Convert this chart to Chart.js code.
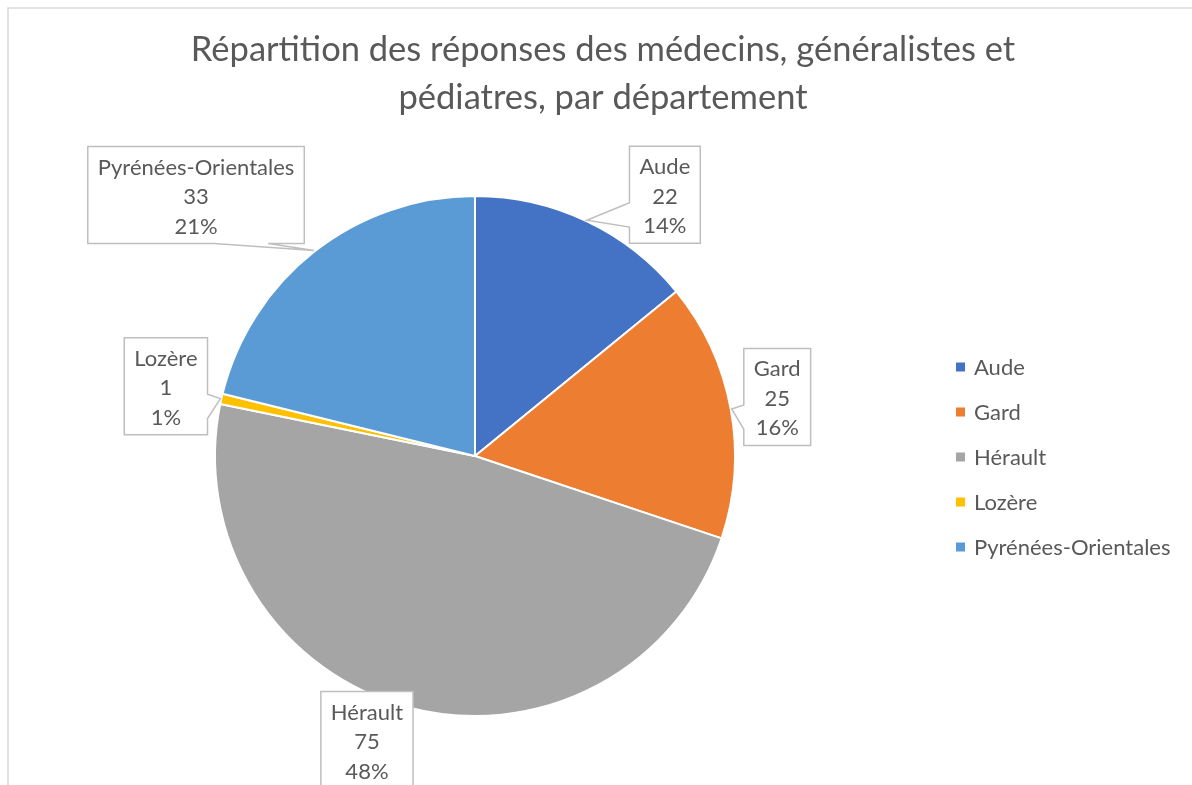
<!DOCTYPE html>
<html>
<head>
<meta charset="utf-8">
<script src="https://cdn.jsdelivr.net/npm/chart.js@4/dist/chart.umd.min.js"></script>
<style>
  html, body { margin: 0; padding: 0; background: #fff; }
</style>
</head>
<body>
<canvas id="camembert" width="1192" height="785"></canvas>
<script>
const departements = ['Aude', 'Gard', 'Hérault', 'Lozère', 'Pyrénées-Orientales'];
const reponses = [22, 25, 75, 1, 33];
const titre = ['Répartition des réponses des médecins, généralistes et', 'pédiatres, par département'];

const couleurs = ['#4472C4', '#ED7D31', '#A5A5A5', '#FFC000', '#5B9BD5'];
const gris = '#595959';
const police = 'Lato, "Open Sans", sans-serif';

// where each callout sits, relative to the edge point of its slice
const decalages = [[78, -25.5], [45.5, -12], [-40.5, 32], [-54.5, -12.5], [-118, -55.5]];

const total = reponses.reduce((a, b) => a + b, 0);
const pourcent = v => Math.round(v / total * 100) + '%';

function bulle(ctx, cx, cy, w, h, tip) {
  const l = cx - w / 2, t = cy - h / 2, r = l + w, b = t + h;
  const dx = (tip.x - cx) / w, dy = (tip.y - cy) / h;
  const inside = tip.x > l && tip.x < r && tip.y > t && tip.y < b;
  ctx.beginPath();
  ctx.moveTo(l, t);
  // top
  if (!inside && Math.abs(dy) >= Math.abs(dx) && dy < 0) {
    const f = dx > 0 ? [7, 10] : [2, 5];
    ctx.lineTo(l + w * f[0] / 12, t); ctx.lineTo(tip.x, tip.y); ctx.lineTo(l + w * f[1] / 12, t);
  }
  ctx.lineTo(r, t);
  // right
  if (!inside && Math.abs(dx) > Math.abs(dy) && dx > 0) {
    const f = dy > 0 ? [7, 10] : [2, 5];
    ctx.lineTo(r, t + h * f[0] / 12); ctx.lineTo(tip.x, tip.y); ctx.lineTo(r, t + h * f[1] / 12);
  }
  ctx.lineTo(r, b);
  // bottom
  if (!inside && Math.abs(dy) >= Math.abs(dx) && dy > 0) {
    const f = dx > 0 ? [10, 7] : [5, 2];
    ctx.lineTo(l + w * f[0] / 12, b); ctx.lineTo(tip.x, tip.y); ctx.lineTo(l + w * f[1] / 12, b);
  }
  ctx.lineTo(l, b);
  // left
  if (!inside && Math.abs(dx) > Math.abs(dy) && dx < 0) {
    const f = dy > 0 ? [10, 7] : [5, 2];
    ctx.lineTo(l, t + h * f[0] / 12); ctx.lineTo(tip.x, tip.y); ctx.lineTo(l, t + h * f[1] / 12);
  }
  ctx.closePath();
  ctx.fillStyle = '#fff';
  ctx.fill();
  ctx.strokeStyle = '#BFBFBF';
  ctx.lineWidth = 1.5;
  ctx.stroke();
}

const habillage = {
  id: 'habillage',
  beforeDraw(chart) {
    const ctx = chart.ctx;
    ctx.save();
    ctx.strokeStyle = '#D9D9D9';
    ctx.lineWidth = 1.5;
    ctx.beginPath();
    ctx.moveTo(8, chart.height); ctx.lineTo(8, 8); ctx.lineTo(chart.width, 8);
    ctx.stroke();

    ctx.fillStyle = gris;
    ctx.textAlign = 'center';
    ctx.textBaseline = 'alphabetic';
    ctx.font = '34.5px ' + police;
    titre.forEach((ligne, i) => ctx.fillText(ligne, 603, 61 + i * 47.5));
    ctx.restore();
  },
  afterDatasetsDraw(chart) {
    const ctx = chart.ctx;
    const arcs = chart.getDatasetMeta(0).data;
    ctx.save();
    ctx.font = '22px ' + police;
    arcs.forEach((arc, i) => {
      const p = arc.getProps(['x', 'y', 'startAngle', 'endAngle', 'outerRadius'], true);
      const mid = (p.startAngle + p.endAngle) / 2;
      const tip = { x: p.x + Math.cos(mid) * (p.outerRadius + 1), y: p.y + Math.sin(mid) * (p.outerRadius + 1) };
      const lignes = [departements[i], String(reponses[i]), pourcent(reponses[i])];
      const w = Math.max(...lignes.map(s => ctx.measureText(s).width)) + 20;
      const h = 97;
      const cx = tip.x + decalages[i][0], cy = tip.y + decalages[i][1];
      bulle(ctx, cx, cy, w, h, tip);
      ctx.fillStyle = gris;
      ctx.textAlign = 'center';
      ctx.textBaseline = 'alphabetic';
      lignes.forEach((s, k) => ctx.fillText(s, cx, cy - h / 2 + 28 + k * 29.5));
    });

    // legend
    ctx.textAlign = 'left';
    ctx.textBaseline = 'alphabetic';
    departements.forEach((d, i) => {
      const y = 367 + i * 45;
      ctx.fillStyle = couleurs[i];
      ctx.fillRect(956, y - 4.5, 9, 9);
      ctx.fillStyle = gris;
      ctx.fillText(d, 974, y + 7.5);
    });
    ctx.restore();
  }
};

new Chart(document.getElementById('camembert'), {
  type: 'pie',
  data: {
    labels: departements,
    datasets: [{
      data: reponses,
      backgroundColor: couleurs,
      borderColor: '#fff',
      borderWidth: 2
    }]
  },
  options: {
    responsive: false,
    devicePixelRatio: 1,
    animation: false,
    layout: { padding: { left: 214, right: 456, top: 195, bottom: 68 } },
    plugins: {
      legend: { display: false },
      title: { display: false },
      tooltip: { enabled: false }
    }
  },
  plugins: [habillage]
});
</script>
</body>
</html>
